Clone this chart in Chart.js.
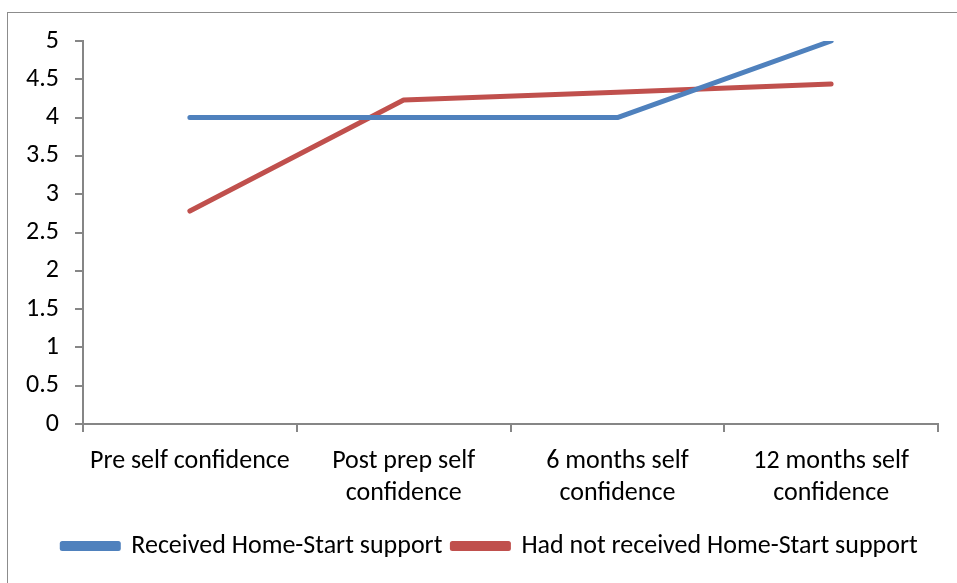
<!DOCTYPE html>
<html>
<head>
<meta charset="utf-8">
<script src="https://cdn.jsdelivr.net/npm/chart.js@4/dist/chart.umd.min.js"></script>
<style>
  html, body { margin: 0; padding: 0; background: #fff; }
  #frame { position: absolute; left: 7px; top: 12px; width: 1000px; height: 1000px; border: 1px solid #8c8c8c; }
  #wrap { position: absolute; left: 0; top: 0; width: 957px; height: 583px; }
</style>
</head>
<body>
<div id="frame"></div>
<div id="wrap"><canvas id="lineChart" width="957" height="583"></canvas></div>
<script>
// categories (x axis)
const categories = [
  'Pre self confidence',
  ['Post prep self', 'confidence'],
  ['6 months self', 'confidence'],
  ['12 months self', 'confidence']
];

// series values
const receivedSupport = [4, 4, 4, 5];
const notReceivedSupport = [2.78, 4.23, 4.33, 4.44];

// y tick labels
const yTicks = [0, 0.5, 1, 1.5, 2, 2.5, 3, 3.5, 4, 4.5, 5];

const fontFamily = "Carlito, Calibri, 'Liberation Sans Narrow', 'Liberation Sans', sans-serif";
const axisColor = '#868686';

// legend sits a little right of the chart centre in the original
const legendShift = {
  id: 'legendShift',
  afterLayout(chart) {
    chart.legend.left += 11;
    chart.legend.right += 11;
  }
};

const ctx = document.getElementById('lineChart').getContext('2d');
new Chart(ctx, {
  type: 'line',
  data: {
    labels: categories,
    datasets: [
      {
        label: 'Received Home-Start support',
        data: receivedSupport,
        borderColor: '#4f81bd',
        backgroundColor: '#4f81bd',
        borderWidth: 5,
        pointRadius: 0,
        tension: 0,
        borderCapStyle: 'round',
        borderJoinStyle: 'round'
      },
      {
        label: 'Had not received Home-Start support',
        data: notReceivedSupport,
        borderColor: '#c0504d',
        backgroundColor: '#c0504d',
        borderWidth: 5,
        pointRadius: 0,
        tension: 0,
        borderCapStyle: 'round',
        borderJoinStyle: 'round'
      }
    ]
  },
  plugins: [legendShift],
  options: {
    responsive: false,
    animation: false,
    layout: { padding: { left: 20, right: 19, top: 41, bottom: 14 } },
    plugins: {
      tooltip: { enabled: false },
      legend: {
        position: 'bottom',
        labels: {
          boxWidth: 56,
          boxHeight: 5,
          padding: 10,
          color: '#000',
          font: { family: fontFamily, size: 26 }
        }
      }
    },
    scales: {
      x: {
        offset: true,
        afterFit: (scale) => { scale.height = 99; },
        grid: {
          offset: true,
          drawOnChartArea: false,
          drawTicks: true,
          tickLength: 8,
          color: axisColor,
          lineWidth: 2
        },
        border: { color: axisColor, width: 2 },
        ticks: {
          color: '#000',
          maxRotation: 0,
          autoSkip: false,
          padding: 14,
          font: { family: fontFamily, size: 26, lineHeight: 1.23 }
        }
      },
      y: {
        min: 0,
        max: 5,
        afterBuildTicks: (axis) => { axis.ticks = yTicks.map(v => ({ value: v })); },
        afterFit: (scale) => { scale.width = 63; },
        grid: {
          drawOnChartArea: false,
          drawTicks: true,
          tickLength: 8,
          color: axisColor,
          lineWidth: 2
        },
        border: { color: axisColor, width: 2 },
        ticks: {
          color: '#000',
          padding: 16,
          callback: (v) => String(v),
          font: { family: fontFamily, size: 26 }
        }
      }
    }
  }
});
</script>
</body>
</html>
